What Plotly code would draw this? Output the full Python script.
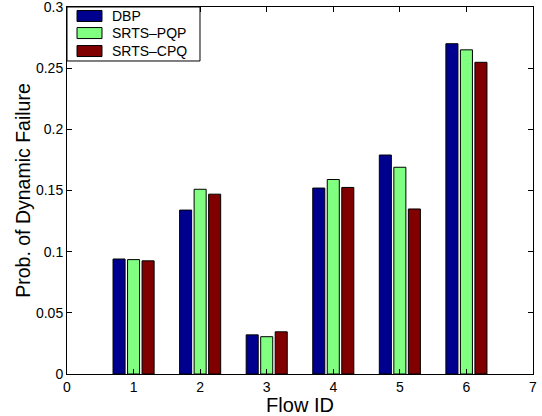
import plotly.graph_objects as go

# Per-flow probability of dynamic failure for the three schedulers
flow_ids = [1, 2, 3, 4, 5, 6]
dbp = [0.094, 0.134, 0.032, 0.152, 0.179, 0.270]
srts_pqp = [0.0935, 0.151, 0.0305, 0.159, 0.169, 0.265]
srts_cpq = [0.0925, 0.147, 0.0345, 0.1525, 0.1349, 0.2548]

series_names = ["DBP", "SRTS\u2013PQP", "SRTS\u2013CPQ"]
series_values = [dbp, srts_pqp, srts_cpq]
series_colors = ["#00008F", "#80FF80", "#800000"]

x_ticks = [0, 1, 2, 3, 4, 5, 6, 7]
y_ticks = [0, 0.05, 0.1, 0.15, 0.2, 0.25, 0.3]
y_tick_text = ["0", "0.05", "0.1", "0.15", "0.2", "0.25", "0.3"]

FONT = "Liberation Sans, Arial, Helvetica, sans-serif"

fig = go.Figure()
for name, vals, col in zip(series_names, series_values, series_colors):
    fig.add_trace(go.Bar(
        x=flow_ids, y=vals, name=name,
        marker=dict(color=col, line=dict(color="black", width=1)),
        showlegend=False,
    ))

axis_common = dict(
    showline=True, linecolor="black", linewidth=1, mirror="ticks",
    ticks="inside", ticklen=5, tickwidth=1, tickcolor="black",
    showgrid=False, zeroline=False, ticklabeloverflow="allow",
    automargin=False,
    tickfont=dict(family=FONT, size=14, color="black"),
)

fig.update_layout(
    width=542, height=416,
    margin=dict(l=67, r=9, t=7, b=42),
    paper_bgcolor="white", plot_bgcolor="white",
    barmode="group", bargap=0.346, bargroupgap=0.17,
    font=dict(family=FONT, color="black"),
    xaxis=dict(range=[0, 7], tickvals=x_ticks,
               title=dict(text="Flow ID", font=dict(family=FONT, size=20), standoff=2),
               **axis_common),
    yaxis=dict(range=[0, 0.30001], tickvals=y_ticks, ticktext=y_tick_text,
               title=dict(text="Prob. of Dynamic Failure", font=dict(family=FONT, size=19.5), standoff=0),
               **axis_common),
)

# Legend box in the upper-left corner of the axes
shapes = [dict(type="rect", xref="paper", yref="paper",
               x0=0, x1=0.2854, y0=0.8529, y1=1.0,
               line=dict(color="black", width=1), fillcolor="white")]
annotations = []
row_y = [0.9755, 0.929, 0.880]
for name, col, yc in zip(series_names, series_colors, row_y):
    shapes.append(dict(type="rect", xref="paper", yref="paper",
                       x0=0.0215, x1=0.0751, y0=yc - 0.015, y1=yc + 0.015,
                       line=dict(color="black", width=1), fillcolor=col))
    annotations.append(dict(xref="paper", yref="paper", x=0.0923, y=yc,
                            xanchor="left", yanchor="middle", showarrow=False,
                            text=name, font=dict(family=FONT, size=14, color="black")))
fig.update_layout(shapes=shapes, annotations=annotations)

fig.write_html("out.html")
